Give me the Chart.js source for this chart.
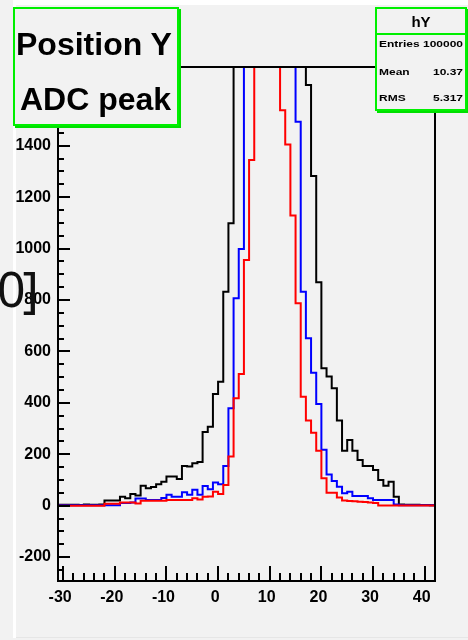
<!DOCTYPE html>
<html>
<head>
<meta charset="utf-8">
<script src="https://cdn.jsdelivr.net/npm/chart.js@4.4.1/dist/chart.umd.min.js"></script>
<style>
  html, body { margin: 0; padding: 0; background: #f2f2f2; }
  body { position: relative; width: 468px; height: 640px; overflow: hidden; font-family: "Liberation Sans", Arial, sans-serif; }
  #hYChart { position: absolute; left: 0; top: 0; }
  .edge { position: absolute; background: #ffffff; }
  .pave { position: absolute; box-sizing: border-box; border: 2px solid #00f000; background: #f2f2f2; box-shadow: 2px 2px 0 #00e000; }
  .title-line { position: absolute; font-weight: bold; font-size: 32px; line-height: 32px; color: #000; white-space: nowrap; }
  .stats-head { position: absolute; left: 0; top: 0; width: 100%; height: 24px; border-bottom: 2px solid #00f000; text-align: center; font-weight: bold; font-size: 15px; line-height: 25px; }
  .stats-row { position: absolute; left: 2px; right: 2px; height: 14px; font-weight: bold; font-size: 12px; line-height: 14px; transform: scaleY(0.8); }
  .stats-row .val { position: absolute; right: 0; top: 0; }
  #stray { position: absolute; left: -3px; top: 263px; font-family: "Noto Sans", sans-serif; font-size: 50px; line-height: 50px; letter-spacing: -3px; color: #111; }
</style>
</head>
<body>
<canvas id="hYChart" width="468" height="640"></canvas>

<div class="edge" style="left:13px; top:0; width:455px; height:5px;"></div>
<div class="edge" style="left:13px; top:0; width:3px; height:638px;"></div>
<div class="edge" style="left:16px; top:637px; width:452px; height:1px; background:#e6e6e6;"></div>

<div class="pave" style="left:13px; top:7px; width:166px; height:119px;">
  <div class="title-line" style="left:1px; top:19px;">Position Y</div>
  <div class="title-line" style="left:5px; top:74px;">ADC peak</div>
</div>

<div class="pave" style="left:375px; top:7px; width:92px; height:104px;">
  <div class="stats-head">hY</div>
  <div class="stats-row" style="top:28px;"><span>Entries</span><span class="val">100000</span></div>
  <div class="stats-row" style="top:56px;"><span>Mean</span><span class="val">10.37</span></div>
  <div class="stats-row" style="top:82px;"><span>RMS</span><span class="val">5.317</span></div>
</div>

<div id="stray">0]</div>

<script>
// hY: bins of width 1 from -31 to 42
const X_MIN = -31;
const X_MAX = 42;
const BIN_WIDTH = 1;
const Y_MIN = -293;
const Y_MAX = 1706;

const xTickLabels = [-30, -20, -10, 0, 10, 20, 30, 40];
const yTickLabels = [-200, 0, 200, 400, 600, 800, 1000, 1200, 1400, 1600];

// bins -31 .. 41 (the centre bins run off the top of the frame)
const blackCounts = [
  4, 4, 4, 4, 3, 5, 4, 4, 5, 20, 20, 20, 35, 29, 45, 40, 77, 68, 73, 83,
  93, 113, 113, 104, 154, 152, 165, 170, 286, 307, 434, 482, 832, 1098,
  2400, 3800, 5200, 6600, 7800, 8700, 9200, 9200, 8700, 7800, 6600, 5200, 3800, 2500,
  1636, 1282, 869, 534, 502, 457, 331, 214, 255, 214, 178, 154, 154, 139,
  100, 77, 93, 35, 5, 4, 4, 4, 3, 3, 2,
];
const blueCounts = [
  2, 2, 2, 2, 2, 2, 2, 2, 2, 2, 2, 2, 10, 10, 12, 28, 28, 22, 22, 22,
  30, 42, 35, 35, 52, 42, 62, 42, 76, 64, 90, 83, 154, 379, 807, 998,
  2600, 5000, 7500, 9500, 10500, 10500, 9500, 7500, 5000, 2600,
  1493, 832, 651, 517, 395, 217, 121, 96, 74, 48, 54, 38, 38, 38, 29,
  22, 22, 22, 22, 5, 2, 2, 2, 2, 2, 2, 2,
];
const redCounts = [
  0, 0, 0, 0, 0, 0, 0, 0, 0, 7, 7, 7, 12, 12, 12, 8, 19, 19, 19, 19,
  19, 22, 22, 22, 22, 22, 29, 24, 35, 36, 54, 45, 80, 191, 418, 512, 955, 1344,
  4000, 11000, 16000, 14000, 6000,
  1538, 1405, 1128, 787, 424, 331, 284, 214, 107, 50, 50, 32, 20, 18, 17,
  15, 14, 12, 10, 1, 1, 1, 1, 1, 1, 1, 1, 1, 1, 1,
];

const FONT = "'Liberation Sans', Arial, sans-serif";

// histogram outline: one point per low edge, plus the closing upper edge
function toSteps(counts) {
  const pts = counts.map((c, i) => ({ x: X_MIN + i * BIN_WIDTH, y: c }));
  pts.push({ x: X_MIN + counts.length * BIN_WIDTH, y: counts[counts.length - 1] });
  return pts;
}

function histDataset(label, counts, color) {
  return {
    label,
    data: toSteps(counts),
    borderColor: color,
    backgroundColor: color,
    borderWidth: 2,
    stepped: "before",
    pointRadius: 0,
    fill: false,
  };
}

// ROOT style frame with tick marks pointing into the pad
const rootFrame = {
  id: "rootFrame",
  afterDatasetsDraw(chart) {
    const { ctx, chartArea: a, scales } = chart;
    const x = scales.x;
    const y = scales.y;
    ctx.save();
    ctx.strokeStyle = "#000";
    ctx.lineWidth = 2;
    ctx.beginPath();
    for (let v = -30; v < X_MAX; v += 2) {
      const px = Math.round(x.getPixelForValue(v));
      const len = xTickLabels.includes(v) ? 15 : 8;
      ctx.moveTo(px, a.bottom);
      ctx.lineTo(px, a.bottom - len);
    }
    for (let v = -250; v < Y_MAX; v += 50) {
      const py = Math.round(y.getPixelForValue(v));
      const len = yTickLabels.includes(v) ? 12 : 6;
      ctx.moveTo(a.left, py);
      ctx.lineTo(a.left + len, py);
    }
    ctx.stroke();
    ctx.strokeRect(a.left, a.top, a.right - a.left, a.bottom - a.top);
    ctx.restore();
  },
};

const tickFont = { family: FONT, size: 16, weight: "bold" };

new Chart(document.getElementById("hYChart"), {
  type: "line",
  data: {
    datasets: [
      histDataset("red", redCounts, "#ff0000"),
      histDataset("blue", blueCounts, "#0000ff"),
      histDataset("hY", blackCounts, "#000000"),
    ],
  },
  options: {
    responsive: false,
    animation: false,
    events: [],
    layout: { padding: { left: 0, top: 67, right: 33, bottom: 0 } },
    plugins: {
      legend: { display: false },
      tooltip: { enabled: false },
    },
    scales: {
      x: {
        type: "linear",
        min: X_MIN,
        max: X_MAX,
        afterFit: (s) => { s.height = 59; },
        afterBuildTicks: (s) => { s.ticks = xTickLabels.map((v) => ({ value: v })); },
        grid: { display: false, drawTicks: false },
        border: { display: false },
        ticks: {
          autoSkip: false,
          maxRotation: 0,
          padding: 7,
          labelOffset: -3,
          color: "#000",
          font: tickFont,
          callback: (v) => String(v),
        },
      },
      y: {
        type: "linear",
        min: Y_MIN,
        max: Y_MAX,
        afterFit: (s) => { s.width = 58; },
        afterBuildTicks: (s) => { s.ticks = yTickLabels.map((v) => ({ value: v })); },
        grid: { display: false, drawTicks: false },
        border: { display: false },
        ticks: {
          autoSkip: false,
          padding: 7,
          color: "#000",
          font: tickFont,
          callback: (v) => String(v),
        },
      },
    },
  },
  plugins: [rootFrame],
});
</script>
</body>
</html>
